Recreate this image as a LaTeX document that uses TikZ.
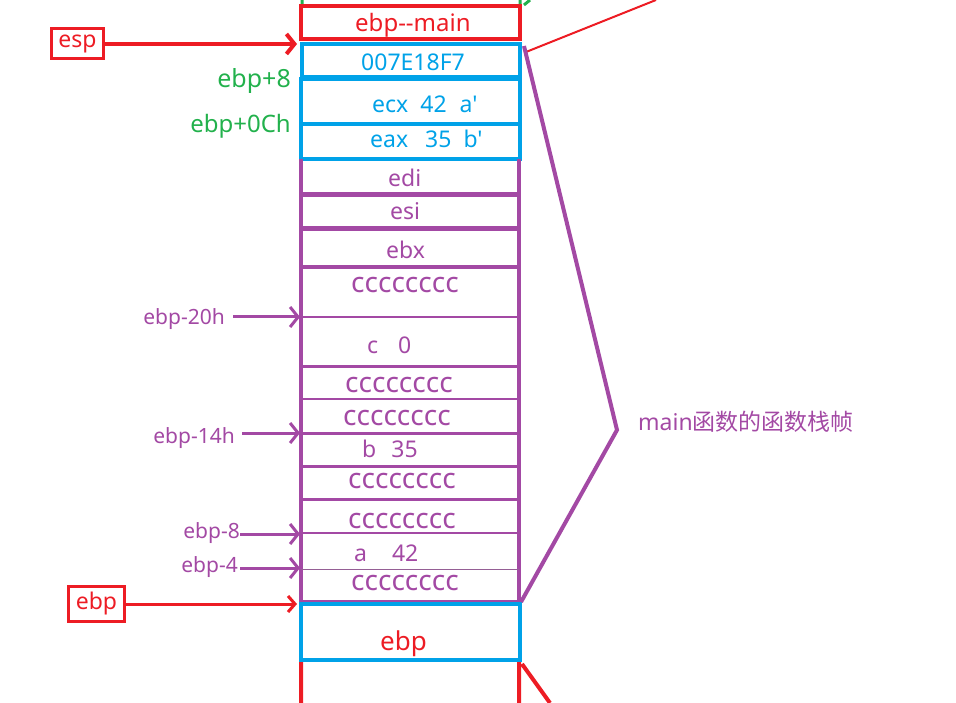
\documentclass[tikz,border=0pt]{standalone}
\usepackage{fontspec}
\setmainfont{Noto Sans}[Ligatures=TeXOff]
\newfontfamily\cjk{Noto Sans CJK SC}
\usetikzlibrary{arrows.meta, positioning, calc}
\definecolor{stkred}{HTML}{ED1C24}
\definecolor{stkblue}{HTML}{00A2E8}
\definecolor{stkpurple}{HTML}{A349A4}
\definecolor{stkgreen}{HTML}{22B14C}

\begin{document}
\begin{tikzpicture}[x=1pt, y=-1pt,
    val/.style={anchor=base west, inner sep=0pt, font=\fontsize{23}{26}\selectfont},
    fillc/.style={val, font=\fontsize{28}{30}\selectfont, stkpurple},
    tag/.style={anchor=base east, inner sep=0pt, font=\fontsize{21}{24}\selectfont, stkpurple},
    regbox/.style={draw=stkred, line width=3pt, text=stkred, inner sep=2pt,
                   font=\fontsize{23}{26}\selectfont},
    arr/.style={-{Straight Barb[length=8pt, width=20pt]}, line width=3pt, stkpurple},
    wall/.style={line width=4.5pt, stkpurple}
]
\useasboundingbox (0,0) rectangle (956,703);

% slots above the main frame
\draw[stkgreen, line width=3pt] (302,0) -- (302,5) (520,0) -- (520,5) (524,5) -- (530,0);
\draw[stkred, line width=4pt] (301,6) rectangle (520,39);
\draw[stkblue, line width=4pt] (302,44) rectangle (520,77) (301,79) rectangle (520,124)
    (301,124) rectangle (520,159);
\draw[stkred, line width=2pt] (526,52) -- (656,0);

% main frame
\draw[wall] (301,159) -- (301,602) (519,159) -- (519,602);
\foreach \y/\w in {195/5, 229/5, 267/4, 317/2.5, 366/3, 399/2.5, 433/3, 466/3, 499/3, 533/2, 602/5}
    \draw[stkpurple, line width=\w pt] (301,\y) -- (519,\y);
\draw[stkpurple!60!gray, line width=1pt] (301,569) -- (519,569);

% below the frame
\draw[stkblue, line width=4pt] (301,604) rectangle (520,660);
\draw[stkred, line width=4pt] (301,662) -- (301,703) (519,662) -- (519,703) (522,664) -- (550,703);

% brace of the frame
\draw[stkpurple, line width=4pt] (524,46) -- (617,430) -- (521,602);
\node[val, stkpurple] (frame) at (638,430) {main{\cjk\fontsize{23}{26}\selectfont 函数的函数栈帧}};

% cell contents
\node[val, stkred, font=\fontsize{24}{26}\selectfont] (oldebp) at (355,32) {ebp-{}-main};
\node[val, stkblue] (ret) at (361,71) {007E18F7};
\node[val, stkblue] (ecx) at (372,113) {ecx\hspace{12pt}42\hspace{13pt}a'};
\node[val, stkblue] (eax) at (370,148) {eax\hspace{17pt}35\hspace{12pt}b'};
\node[val, stkpurple] (edi) at (388,187) {edi};
\node[val, stkpurple] (esi) at (390,220) {esi};
\node[val, stkpurple] (ebx) at (386,259) {ebx};
\node[fillc] (cc1) at (351,293) {cccccccc};
\node[val, stkpurple] (varc) at (367,353) {c\hspace{20pt}0};
\node[fillc] (cc2) at (345,392) {cccccccc};
\node[fillc] (cc3) at (343,425) {cccccccc};
\node[val, stkpurple] (varb) at (362,457) {b\hspace{15pt}35};
\node[fillc] (cc4) at (348,488) {cccccccc};
\node[fillc] (cc5) at (348,528) {cccccccc};
\node[val, stkpurple] (vara) at (354,561) {a\hspace{25pt}42};
\node[fillc] (cc6) at (351,590) {cccccccc};
\node[val, stkred, font=\fontsize{26}{28}\selectfont] (ebpval) at (380,650) {ebp};

% offsets
\node[tag, stkgreen, font=\fontsize{25}{27}\selectfont] (p8) at (291,88) {ebp+8};
\node[tag, stkgreen, font=\fontsize{24}{26}\selectfont] (p12) at (291,133) {ebp+0Ch};
\node[tag] (l20) at (225,325) {ebp-20h};
\node[tag] (l14) at (235,443) {ebp-14h};
\node[tag] (l8) at (240,538) {ebp-8};
\node[tag] (l4) at (238,572) {ebp-4};

\coordinate (w20) at (300,317);
\coordinate (w14) at (300,433);
\coordinate (w8) at (300,534);
\coordinate (w4) at (300,568);
\coordinate (espat) at (297,44);
\coordinate (ebpat) at (297,604);

\draw[arr] (l20.east |- w20) ++(8,0) -- (w20);
\draw[arr] (l14.east |- w14) ++(7,0) -- (w14);
\draw[arr] (l8.east |- w8) -- (w8);
\draw[arr] (l4.east |- w4) ++(2,0) -- (w4);

% registers
\node[regbox, minimum width=52pt, minimum height=30pt] (esp) at (77.5,44) {esp};
\node[regbox, minimum width=56pt, minimum height=35pt] (ebp) at (96.5,604) {ebp};
\draw[arr, stkred, line width=4pt] (esp) -- (espat);
\draw[arr, stkred, -{Straight Barb[length=7pt, width=16pt]}] (ebp) -- (ebpat);
\end{tikzpicture}
\end{document}
